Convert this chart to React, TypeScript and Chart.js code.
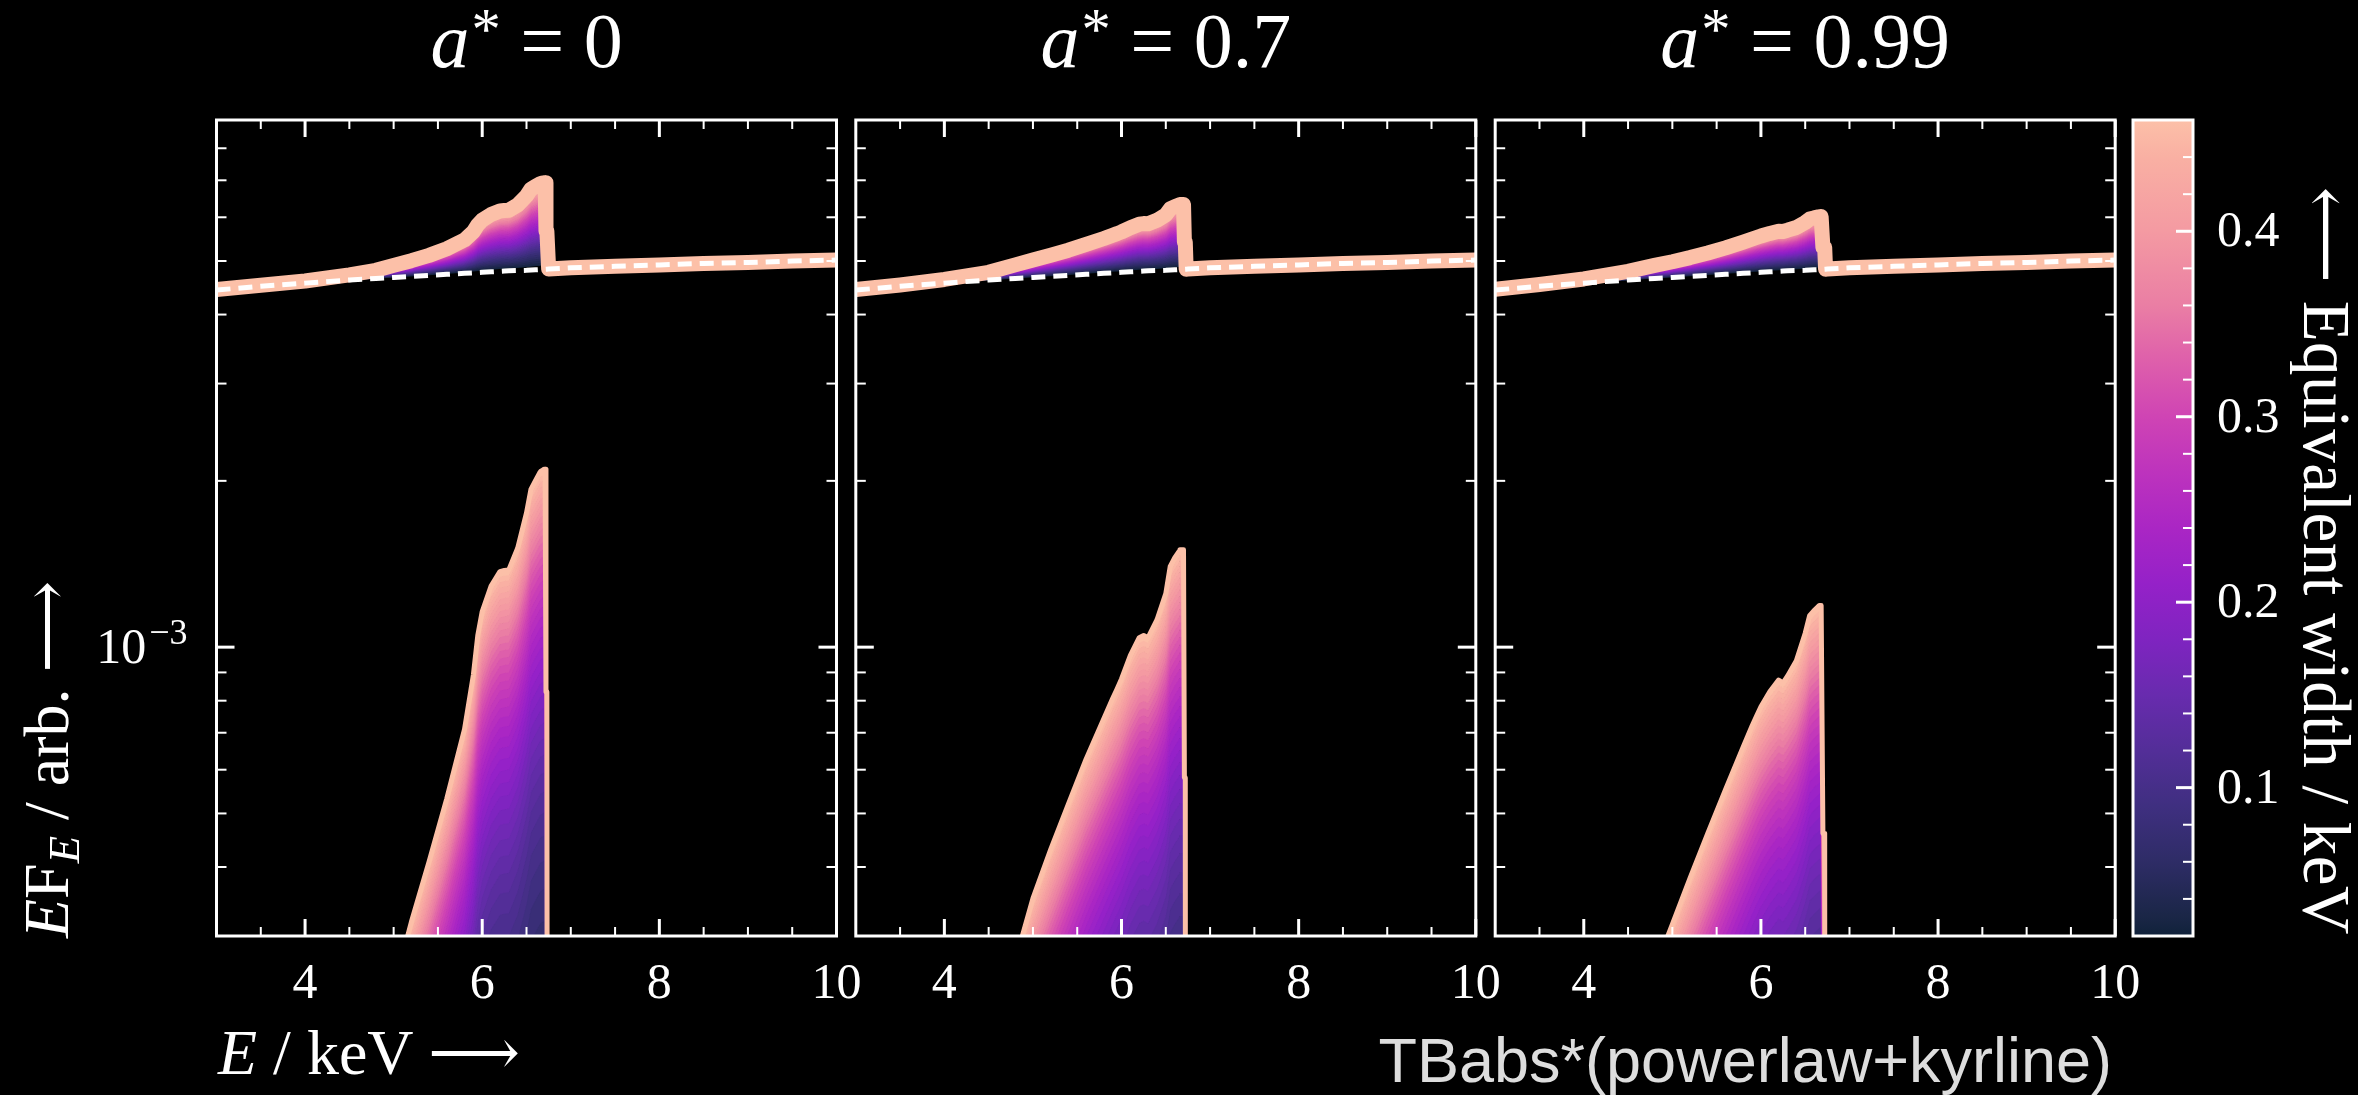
import React, { useEffect, useRef } from "react";
import { Chart, registerables } from "chart.js";

Chart.register(...registerables);

// ---------------- data ----------------
const energiesKeV = [3.0, 3.5, 4.0, 4.5, 4.8, 5.0, 5.2, 5.4, 5.6, 5.8, 5.9, 5.95, 6.0, 6.1, 6.2, 6.25, 6.3, 6.4, 6.5, 6.55, 6.6, 6.65, 6.66, 6.68, 6.7, 6.71, 6.72, 6.73, 6.75, 7.0, 7.5, 8.0, 8.5, 9.0, 9.5, 10.0];

// TBabs*powerlaw continuum (EF_E)
const continuumFlux = [4.43e-3, 4.5e-3, 4.56e-3, 4.62e-3, 4.65e-3, 4.67e-3, 4.69e-3, 4.71e-3, 4.73e-3, 4.75e-3, 4.76e-3, 4.765e-3, 4.77e-3, 4.78e-3, 4.79e-3, 4.795e-3, 4.8e-3, 4.805e-3, 4.81e-3, 4.815e-3, 4.82e-3, 4.825e-3, 4.826e-3, 4.828e-3, 4.83e-3, 4.831e-3, 4.832e-3, 4.833e-3, 4.835e-3, 4.86e-3, 4.89e-3, 4.92e-3, 4.95e-3, 4.97e-3, 5.0e-3, 5.02e-3];

// kyrline component at the largest equivalent width, per spin
const lineSpin0 = [1.0e-5, 2.0e-5, 4.0e-5, 1.0e-4, 1.6e-4, 2.4e-4, 3.18e-4, 4.09e-4, 5.32e-4, 7.1e-4, 8.9e-4, 1.05e-3, 1.16e-3, 1.29e-3, 1.37e-3, 1.377e-3, 1.38e-3, 1.51e-3, 1.75e-3, 1.93e-3, 2.0e-3, 2.07e-3, 2.08e-3, 2.09e-3, 2.1e-3, 2.1e-3, 8.3e-4, 8.3e-4, 1e-7, 1e-7, 1e-7, 1e-7, 1e-7, 1e-7, 1e-7, 1e-7];
const lineSpin07 = [1.0e-5, 2.5e-5, 7.0e-5, 1.5e-4, 2.7e-4, 3.51e-4, 4.3e-4, 5.2e-4, 6.27e-4, 7.42e-4, 8.07e-4, 8.4e-4, 8.76e-4, 9.66e-4, 1.04e-3, 1.05e-3, 1.04e-3, 1.12e-3, 1.25e-3, 1.4e-3, 1.45e-3, 1.49e-3, 1.5e-3, 1.5e-3, 1.5e-3, 5.8e-4, 5.8e-4, 1e-7, 1e-7, 1e-7, 1e-7, 1e-7, 1e-7, 1e-7, 1e-7, 1e-7];
const lineSpin099 = [1.5e-5, 3.5e-5, 8.0e-5, 1.7e-4, 2.6e-4, 3.15e-4, 3.82e-4, 4.6e-4, 5.52e-4, 6.6e-4, 7.2e-4, 7.5e-4, 7.8e-4, 8.3e-4, 8.72e-4, 8.62e-4, 8.86e-4, 9.45e-4, 1.06e-3, 1.14e-3, 1.165e-3, 1.185e-3, 1.19e-3, 1.19e-3, 4.6e-4, 4.6e-4, 4.6e-4, 1e-7, 1e-7, 1e-7, 1e-7, 1e-7, 1e-7, 1e-7, 1e-7, 1e-7];

const spinLabels = ["0", "0.7", "0.99"];
const lineProfiles = [lineSpin0, lineSpin07, lineSpin099];

const equivalentWidths = [0.02, 0.03, 0.04, 0.05, 0.06, 0.07, 0.08, 0.09, 0.1, 0.11, 0.12, 0.13, 0.14, 0.15, 0.16, 0.17, 0.18, 0.19, 0.2, 0.21, 0.22, 0.23, 0.24, 0.25, 0.26, 0.27, 0.28, 0.29, 0.3, 0.31, 0.32, 0.33, 0.34, 0.35, 0.36, 0.37, 0.38, 0.39, 0.4, 0.41, 0.42, 0.43, 0.44, 0.45, 0.46];

const xMajorTicks = [4, 6, 8, 10];
const xMinorTicks = [3.5, 4.5, 5, 5.5, 6.5, 7, 7.5, 8.5, 9, 9.5];
const yMajorTicks = [1e-3];
const yMinorTicks = [4e-4, 5e-4, 6e-4, 7e-4, 8e-4, 9e-4, 2e-3, 3e-3, 4e-3, 5e-3, 6e-3, 7e-3, 8e-3, 9e-3];
const cbarMajorTicks = [0.1, 0.2, 0.3, 0.4];
const cbarMinorTicks = [0.04, 0.06, 0.08, 0.12, 0.14, 0.16, 0.18, 0.22, 0.24, 0.26, 0.28, 0.32, 0.34, 0.36, 0.38, 0.42, 0.44];

const colormapStops: [number, string][] = [
  [0.02, "#10223a"], [0.03, "#1a2646"], [0.06, "#2e2c66"], [0.09, "#3f2f80"],
  [0.12, "#532e98"], [0.15, "#682bae"], [0.18, "#7f24c0"], [0.21, "#9521c8"],
  [0.24, "#aa26c4"], [0.27, "#bd33bd"], [0.3, "#cf44b4"], [0.33, "#de5fab"],
  [0.36, "#ea7ea4"], [0.4, "#f49aa2"], [0.44, "#f9b0a3"], [0.46, "#fcc0a8"],
];

// ---------------- layout ----------------
const W = 2358;
const H = 1095;
const PANEL_LEFTS = [216.5, 855.8, 1495.2];
const PANEL_W = 620;
const PANEL_TOP = 120;
const PANEL_BOTTOM = 936;
const CBAR_LEFT = 2133;
const CBAR_RIGHT = 2193;
const SERIF = '"Liberation Serif", "DejaVu Serif", serif';

function hexToRgb(h: string) {
  const v = parseInt(h.slice(1), 16);
  return [(v >> 16) & 255, (v >> 8) & 255, v & 255];
}
function colormap(ew: number) {
  const s = colormapStops;
  if (ew <= s[0][0]) return s[0][1];
  for (let i = 1; i < s.length; i++) {
    if (ew <= s[i][0]) {
      const t = (ew - s[i - 1][0]) / (s[i][0] - s[i - 1][0]);
      const a = hexToRgb(s[i - 1][1]);
      const b = hexToRgb(s[i][1]);
      const c = a.map((v, k) => Math.round(v + (b[k] - v) * t));
      return `rgb(${c[0]},${c[1]},${c[2]})`;
    }
  }
  return s[s.length - 1][1];
}

function buildDatasets(profile: number[]) {
  const n = equivalentWidths.length;
  const maxEW = equivalentWidths[n - 1];
  const sets: any[] = [];
  equivalentWidths.forEach((ew, i) => {
    const c = colormap(ew);
    const top = i === n - 1;
    sets.push({
      label: `kyrline EW ${ew}`,
      data: energiesKeV.map((e, k) => ({ x: e, y: (profile[k] * ew) / maxEW })),
      borderColor: c,
      backgroundColor: c,
      borderWidth: top ? 5 : 1.5,
      fill: i === 0 ? false : "-1",
      pointRadius: 0,
      tension: 0,
      clip: 0,
      borderJoinStyle: "round",
      borderCapStyle: "round",
    });
  });
  equivalentWidths.forEach((ew, i) => {
    const c = colormap(ew);
    const top = i === n - 1;
    sets.push({
      label: `total EW ${ew}`,
      data: energiesKeV.map((e, k) => ({ x: e, y: continuumFlux[k] + (profile[k] * ew) / maxEW })),
      borderColor: c,
      backgroundColor: c,
      borderWidth: top ? 15 : 1.5,
      fill: i === 0 ? false : "-1",
      pointRadius: 0,
      tension: 0,
      clip: 0,
      borderJoinStyle: "round",
      borderCapStyle: "round",
    });
  });
  sets.push({
    label: "continuum",
    data: energiesKeV.map((e, k) => ({ x: e, y: continuumFlux[k] })),
    borderColor: "#ffffff",
    borderWidth: 5,
    borderDash: [14, 8],
    fill: false,
    pointRadius: 0,
    tension: 0,
    clip: 0,
  });
  sets.forEach((s, idx) => (s.order = -idx));
  return sets;
}

function axesPlugin(showYLabels: boolean) {
  return {
    id: "axesFrame",
    afterDraw(chart: any) {
      const { ctx, chartArea: a, scales } = chart;
      const xs = scales.x;
      const ys = scales.y;
      ctx.save();
      ctx.strokeStyle = "#ffffff";
      ctx.fillStyle = "#ffffff";
      const tick = (x1: number, y1: number, x2: number, y2: number, w: number) => {
        ctx.lineWidth = w;
        ctx.beginPath();
        ctx.moveTo(x1, y1);
        ctx.lineTo(x2, y2);
        ctx.stroke();
      };
      xMinorTicks.forEach((v) => {
        const px = xs.getPixelForValue(v);
        tick(px, a.bottom, px, a.bottom - 9, 2);
        tick(px, a.top, px, a.top + 9, 2);
      });
      xMajorTicks.forEach((v) => {
        const px = xs.getPixelForValue(v);
        tick(px, a.bottom, px, a.bottom - 17, 3);
        tick(px, a.top, px, a.top + 17, 3);
      });
      yMinorTicks.forEach((v) => {
        const py = ys.getPixelForValue(v);
        tick(a.left, py, a.left + 10, py, 2);
        tick(a.right, py, a.right - 10, py, 2);
      });
      yMajorTicks.forEach((v) => {
        const py = ys.getPixelForValue(v);
        tick(a.left, py, a.left + 18, py, 3);
        tick(a.right, py, a.right - 18, py, 3);
      });
      ctx.lineWidth = 3;
      ctx.strokeRect(a.left, a.top, a.right - a.left, a.bottom - a.top);

      ctx.font = `50px ${SERIF}`;
      ctx.textAlign = "center";
      ctx.textBaseline = "alphabetic";
      xMajorTicks.forEach((v) => {
        ctx.fillText(String(v), xs.getPixelForValue(v), a.bottom + 62);
      });
      if (showYLabels) {
        yMajorTicks.forEach((v) => {
          const py = ys.getPixelForValue(v);
          const exp = String(Math.round(Math.log10(v))).replace("-", "\u2212");
          const right = a.left - 29;
          ctx.textAlign = "right";
          ctx.font = `36px ${SERIF}`;
          ctx.fillText(exp, right, py - 3);
          const ew = ctx.measureText(exp).width;
          ctx.font = `50px ${SERIF}`;
          ctx.fillText("10", right - ew - 3, py + 16);
        });
      }
      ctx.restore();
    },
  };
}

function PanelCanvas({ index }: { index: number }) {
  const ref = useRef<HTMLCanvasElement>(null);
  useEffect(() => {
    const left = PANEL_LEFTS[index];
    const chart = new Chart(ref.current as HTMLCanvasElement, {
      type: "line",
      data: { datasets: buildDatasets(lineProfiles[index]) },
      options: {
        responsive: false,
        animation: false,
        devicePixelRatio: 1,
        events: [],
        layout: {
          padding: { left, right: W - left - PANEL_W, top: PANEL_TOP, bottom: H - PANEL_BOTTOM },
        },
        plugins: { legend: { display: false }, tooltip: { enabled: false }, title: { display: false } },
        scales: {
          x: { type: "linear", min: 3, max: 10, display: false },
          y: { type: "logarithmic", min: 3.0e-4, max: 9.0e-3, display: false },
        },
      } as any,
      plugins: [axesPlugin(index === 0)],
    });
    return () => chart.destroy();
  }, [index]);
  return (
    <canvas ref={ref} width={W} height={H} style={{ position: "absolute", left: 0, top: 0, width: W, height: H }} />
  );
}

function ColorbarCanvas() {
  const ref = useRef<HTMLCanvasElement>(null);
  useEffect(() => {
    const lo = equivalentWidths[0];
    const hi = equivalentWidths[equivalentWidths.length - 1];
    const chart = new Chart(ref.current as HTMLCanvasElement, {
      type: "bar",
      data: {
        labels: ["EW"],
        datasets: [
          {
            data: [[lo, hi]],
            borderWidth: 0,
            barPercentage: 1,
            categoryPercentage: 1,
            backgroundColor: (c: any) => {
              const area = c.chart.chartArea;
              if (!area) return colormapStops[0][1];
              const g = c.chart.ctx.createLinearGradient(0, area.bottom, 0, area.top);
              colormapStops.forEach(([v, col]) => g.addColorStop((v - lo) / (hi - lo), col));
              return g;
            },
          } as any,
        ],
      },
      options: {
        responsive: false,
        animation: false,
        devicePixelRatio: 1,
        events: [],
        layout: {
          padding: { left: CBAR_LEFT, right: W - CBAR_RIGHT, top: PANEL_TOP, bottom: H - PANEL_BOTTOM },
        },
        plugins: { legend: { display: false }, tooltip: { enabled: false } },
        scales: {
          x: { display: false },
          y: { display: false, min: lo, max: hi },
        },
      } as any,
      plugins: [
        {
          id: "cbarFrame",
          afterDraw(ch: any) {
            const { ctx, chartArea: a, scales } = ch;
            ctx.save();
            ctx.strokeStyle = "#fff";
            ctx.fillStyle = "#fff";
            cbarMinorTicks.forEach((v) => {
              const py = scales.y.getPixelForValue(v);
              ctx.lineWidth = 2;
              ctx.beginPath();
              ctx.moveTo(a.right, py);
              ctx.lineTo(a.right - 10, py);
              ctx.stroke();
            });
            ctx.font = `50px ${SERIF}`;
            ctx.textAlign = "left";
            ctx.textBaseline = "middle";
            cbarMajorTicks.forEach((v) => {
              const py = scales.y.getPixelForValue(v);
              ctx.lineWidth = 3;
              ctx.beginPath();
              ctx.moveTo(a.right, py);
              ctx.lineTo(a.right - 17, py);
              ctx.stroke();
              ctx.fillText(v.toFixed(1), a.right + 24, py + 2);
            });
            ctx.lineWidth = 3;
            ctx.strokeRect(a.left, a.top, a.right - a.left, a.bottom - a.top);
            ctx.restore();
          },
        },
      ],
    });
    return () => chart.destroy();
  }, []);
  return (
    <canvas ref={ref} width={W} height={H} style={{ position: "absolute", left: 0, top: 0, width: W, height: H }} />
  );
}

const serifText: React.CSSProperties = {
  position: "absolute",
  color: "#ffffff",
  fontFamily: SERIF,
  whiteSpace: "nowrap",
};

export default function App() {
  return (
    <div style={{ position: "absolute", left: 0, top: 0, width: W, height: H, background: "#000", overflow: "hidden" }}>
      {[0, 1, 2].map((i) => (
        <PanelCanvas key={i} index={i} />
      ))}
      <ColorbarCanvas />
      {spinLabels.map((s, i) => (
        <div
          key={s}
          style={{ ...serifText, left: PANEL_LEFTS[i], width: PANEL_W, top: 2, textAlign: "center", fontSize: 78, lineHeight: "78px" }}
        >
          <i>a</i>
          <span style={{ fontSize: "0.75em", position: "relative", top: "-0.3em", marginLeft: 2 }}>*</span>
          {" = "}
          {s}
        </div>
      ))}
      <div style={{ ...serifText, left: 218, top: 1021, fontSize: 64, lineHeight: "64px" }}>
        <i>E</i> / keV {"\u27F6"}
      </div>
      <div
        style={{
          ...serifText,
          left: 15,
          top: 938,
          fontSize: 64,
          lineHeight: "64px",
          transformOrigin: "0 0",
          transform: "rotate(-90deg)",
        }}
      >
        <i>E</i>F<span style={{ fontSize: "0.7em", position: "relative", top: "0.25em" }}><i>E</i></span> / arb. {"\u27F6"}
      </div>
      <div
        style={{
          ...serifText,
          left: 2360,
          top: 160,
          width: 775,
          textAlign: "right",
          fontSize: 67,
          lineHeight: "67px",
          letterSpacing: "0.5px",
          transformOrigin: "0 0",
          transform: "rotate(90deg)",
        }}
      >
        {"\u27F5"} Equivalent width / keV
      </div>
      <div
        style={{
          position: "absolute",
          right: W - 2112,
          top: 1029,
          fontFamily: '"Liberation Sans", Arial, sans-serif',
          fontSize: 63,
          lineHeight: "63px",
          color: "#dddddd",
          whiteSpace: "nowrap",
        }}
      >
        TBabs*(powerlaw+kyrline)
      </div>
    </div>
  );
}
